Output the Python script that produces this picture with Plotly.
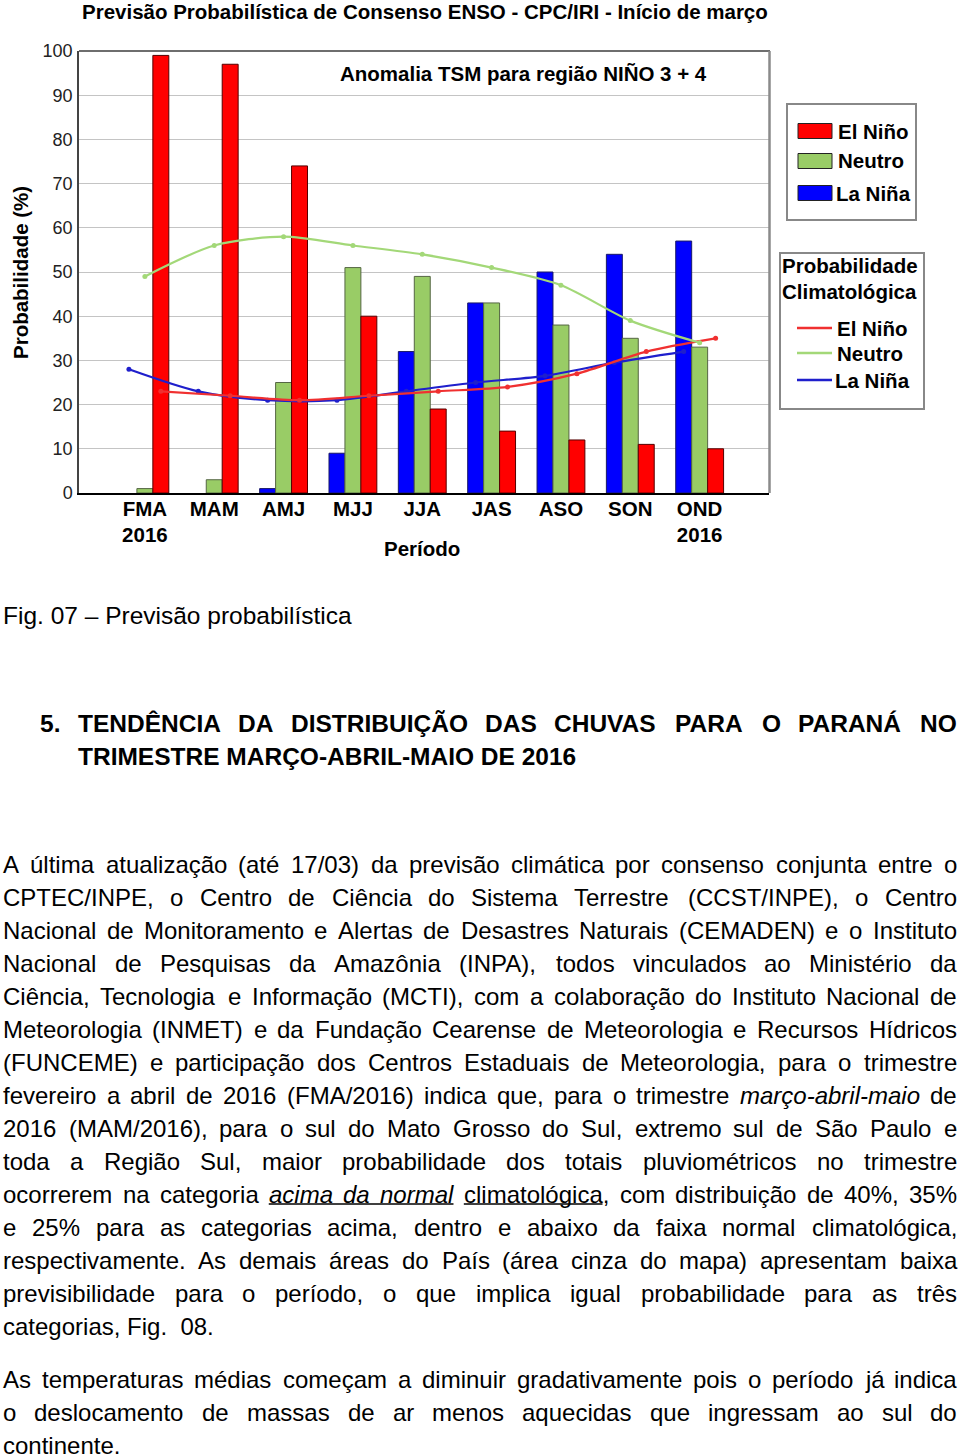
import re
import unicodedata
import plotly.graph_objects as go

W, H = 960, 1454
FONT = "Liberation Sans, Arial, sans-serif"


def px(x):
    return x / W


def py(y):
    return 1 - y / H


# ---------------- chart data ----------------
periods = ["FMA<br>2016", "MAM", "AMJ", "MJJ", "JJA", "JAS", "ASO", "SON", "OND<br>2016"]
la_nina = [0, 0, 1, 9, 32, 43, 50, 54, 57]
neutro = [1, 3, 25, 51, 49, 43, 38, 35, 33]
el_nino = [99, 97, 74, 40, 19, 14, 12, 11, 10]
clim_el_nino = [23, 22, 21, 22, 23, 24, 27, 32, 35]
clim_neutro = [49, 56, 58, 56, 54, 51, 47, 39, 34]
clim_la_nina = [28, 23, 21, 21, 23, 25, 26.5, 29.5, 32]
y_ticks = list(range(0, 101, 10))

# ---------------- page text ----------------
caption = "Fig. 07 – Previsão probabilística"
heading_num = "5."
heading_lines = [
    "TENDÊNCIA DA DISTRIBUIÇÃO DAS CHUVAS PARA O PARANÁ NO",
    "TRIMESTRE MARÇO-ABRIL-MAIO DE 2016",
]
para1 = [
    "A última atualização (até 17/03) da previsão climática por consenso conjunta entre o",
    "CPTEC/INPE, o Centro de Ciência do Sistema Terrestre (CCST/INPE), o Centro",
    "Nacional de Monitoramento e Alertas de Desastres Naturais (CEMADEN) e o Instituto",
    "Nacional de Pesquisas da Amazônia (INPA), todos vinculados ao Ministério da",
    "Ciência, Tecnologia e Informação (MCTI), com a colaboração do Instituto Nacional de",
    "Meteorologia (INMET) e da Fundação Cearense de Meteorologia e Recursos Hídricos",
    "(FUNCEME) e participação dos Centros Estaduais de Meteorologia, para o trimestre",
    "fevereiro a abril de 2016 (FMA/2016) indica que, para o trimestre <i>março-abril-maio</i> de",
    "2016 (MAM/2016), para o sul do Mato Grosso do Sul, extremo sul de São Paulo e",
    "toda a Região Sul, maior probabilidade dos totais pluviométricos no trimestre",
    "ocorrerem na categoria <i>acima</i> <i>da</i> <i>normal</i> climatológica, com distribuição de 40%, 35%",
    "e 25% para as categorias acima, dentro e abaixo da faixa normal climatológica,",
    "respectivamente. As demais áreas do País (área cinza do mapa) apresentam baixa",
    "previsibilidade para o período, o que implica igual probabilidade para as três",
    "categorias, Fig.\u00a0\u00a008.",
]
para1_underlines = {10: [(3, 5), (6, 6)]}
para2 = [
    "As temperaturas médias começam a diminuir gradativamente pois o período já indica",
    "o deslocamento de massas de ar menos aquecidas que ingressam ao sul do",
    "continente.",
]

# ---------------- Arial / Liberation Sans metrics ----------------
REG = {' ': 278, '\u00a0': 278, 'a': 556, 'b': 556, 'c': 500, 'd': 556, 'e': 556, 'f': 278, 'g': 556,
       'h': 556, 'i': 222, 'j': 222, 'k': 500, 'l': 222, 'm': 833, 'n': 556, 'o': 556, 'p': 556,
       'q': 556, 'r': 333, 's': 500, 't': 278, 'u': 556, 'v': 500, 'w': 722, 'x': 500, 'y': 500,
       'z': 500, 'A': 667, 'B': 667, 'C': 722, 'D': 722, 'E': 667, 'F': 611, 'G': 778, 'H': 722,
       'I': 278, 'J': 500, 'K': 667, 'L': 556, 'M': 833, 'N': 722, 'O': 778, 'P': 667, 'Q': 778,
       'R': 722, 'S': 667, 'T': 611, 'U': 722, 'V': 667, 'W': 944, 'X': 667, 'Y': 667, 'Z': 611,
       '.': 278, ',': 278, '(': 333, ')': 333, '/': 278, '-': 333, '%': 889, ':': 278, '–': 556,
       '+': 584}
BOLD = {' ': 278, 'a': 556, 'b': 611, 'c': 556, 'd': 611, 'e': 556, 'f': 333, 'g': 611, 'h': 611,
        'i': 278, 'j': 278, 'k': 556, 'l': 278, 'm': 889, 'n': 611, 'o': 611, 'p': 611, 'q': 611,
        'r': 389, 's': 556, 't': 333, 'u': 611, 'v': 556, 'w': 778, 'x': 556, 'y': 556, 'z': 500,
        'A': 722, 'B': 722, 'C': 722, 'D': 722, 'E': 667, 'F': 611, 'G': 778, 'H': 722, 'I': 278,
        'J': 556, 'K': 722, 'L': 611, 'M': 833, 'N': 722, 'O': 778, 'P': 667, 'Q': 778, 'R': 722,
        'S': 667, 'T': 611, 'U': 722, 'V': 667, 'W': 944, 'X': 667, 'Y': 667, 'Z': 611, '.': 278,
        ',': 278, '-': 333}


def tw(s, size, bold=False):
    s = re.sub(r"<[^>]+>", "", s)
    tab = BOLD if bold else REG
    tot = 0
    for ch in s:
        if ch in tab:
            tot += tab[ch]
        else:
            base = unicodedata.normalize("NFD", ch)[0]
            if ch in "íÍ":
                tot += 278
            else:
                tot += tab.get(base, 556)
    return tot / 1000 * size


fig = go.Figure()

BARGAP = 0.31
bw = (1 - BARGAP) / 3
cat_x = list(range(len(periods)))


def outline_widths(vals):
    return [0 if v == 0 else 1 for v in vals]


fig.add_bar(x=cat_x, y=la_nina, name="La Niña",
            marker=dict(color="#0000ff", line=dict(color="#1a1a66", width=outline_widths(la_nina))))
fig.add_bar(x=cat_x, y=neutro, name="Neutro",
            marker=dict(color="#99cc66", line=dict(color="#556644", width=outline_widths(neutro))))
fig.add_bar(x=cat_x, y=el_nino, name="El Niño",
            marker=dict(color="#ff0000", line=dict(color="#550000", width=outline_widths(el_nino))))

fig.add_scatter(x=[c - bw for c in cat_x], y=clim_la_nina, mode="lines+markers",
                line=dict(color="#1f1fcc", width=2.2, shape="spline", smoothing=0.8),
                marker=dict(size=5, color="#1f1fcc"), name="La Niña clim")
fig.add_scatter(x=[c + bw for c in cat_x], y=clim_el_nino, mode="lines+markers",
                line=dict(color="#f03030", width=2.2, shape="spline", smoothing=0.8),
                marker=dict(size=5, color="#f03030"), name="El Niño clim")
fig.add_scatter(x=cat_x, y=clim_neutro, mode="lines+markers",
                line=dict(color="#a3d878", width=2.2, shape="spline", smoothing=0.8),
                marker=dict(size=5, color="#a3d878"), name="Neutro clim")

fig.update_layout(
    width=W, height=H,
    margin=dict(l=0, r=0, t=0, b=0, autoexpand=False),
    paper_bgcolor="white", plot_bgcolor="white",
    barmode="group", bargap=BARGAP, bargroupgap=0,
    showlegend=False,
    xaxis=dict(domain=[px(79), px(769)], range=[-0.95, 9.0], tickmode="array",
               tickvals=cat_x, ticktext=periods, showgrid=False, zeroline=False,
               showline=True, linecolor="#000", linewidth=2, ticks="",
               ticklabelstandoff=-4,
               tickfont=dict(family=FONT, size=20.5, color="#000", weight="bold")),
    yaxis=dict(domain=[py(493), py(51)], range=[0, 100], tickmode="array",
               tickvals=y_ticks, showgrid=True, gridcolor="#c4c4c4", gridwidth=1,
               zeroline=False, showline=True, linecolor="#444", linewidth=1.5, ticks="",
               ticklabelstandoff=1,
               tickfont=dict(family=FONT, size=18, color="#222")),
)

# plot frame (top and right)
fig.add_shape(type="line", xref="paper", yref="paper", x0=px(79), x1=px(770), y0=py(51), y1=py(51),
              line=dict(color="#6e6e6e", width=2))
fig.add_shape(type="line", xref="paper", yref="paper", x0=px(769.5), x1=px(769.5), y0=py(51), y1=py(493),
              line=dict(color="#8a8a8a", width=2.5))


def add_text(text, x, y, size, bold=False, anchor="left", color="#000", angle=0):
    fig.add_annotation(text=text, x=px(x), y=py(y), xref="paper", yref="paper",
                       xanchor=anchor, yanchor="middle", showarrow=False,
                       textangle=angle, borderpad=0, borderwidth=0,
                       font=dict(family=FONT, size=size, color=color,
                                 weight="bold" if bold else "normal"))


# chart texts
add_text("Previsão Probabilística de Consenso ENSO - CPC/IRI - Início de março", 425, 12, 20.5, True, "center")
add_text("Anomalia TSM para região NIÑO 3 + 4", 523, 74, 20.5, True, "center")
add_text("Probabilidade (%)", 20, 273, 20.5, True, "center", angle=-90)
add_text("Período", 422, 548, 20.5, True, "center")

# legend box 1 (bars)
fig.add_shape(type="rect", xref="paper", yref="paper", x0=px(787), x1=px(916), y0=py(104), y1=py(220),
              line=dict(color="#888", width=2), fillcolor="white")
for name, col, yy, tx in [("El Niño", "#ff0000", 131, 838), ("Neutro", "#99cc66", 161, 838),
                          ("La Niña", "#0000ff", 193, 836)]:
    fig.add_shape(type="rect", xref="paper", yref="paper", x0=px(798), x1=px(832),
                  y0=py(yy - 7.5), y1=py(yy + 7.5), line=dict(color="#222", width=1), fillcolor=col)
    add_text(name, tx, yy, 20.5, True)

# legend box 2 (climatology lines)
fig.add_shape(type="rect", xref="paper", yref="paper", x0=px(780), x1=px(924), y0=py(253), y1=py(409),
              line=dict(color="#888", width=2), fillcolor="white")
add_text("Probabilidade", 782, 266, 20.5, True)
add_text("Climatológica", 782, 291, 20.5, True)
for name, col, yy, tx in [("El Niño", "#f03030", 328, 837), ("Neutro", "#a3d878", 353, 837),
                          ("La Niña", "#1f1fcc", 380, 835)]:
    fig.add_shape(type="line", xref="paper", yref="paper", x0=px(797), x1=px(832),
                  y0=py(yy), y1=py(yy), line=dict(color=col, width=2.5))
    add_text(name, tx, yy, 20.5, True)

# ---------------- page text layout ----------------
BODY = 24
HEAD = 24.5
X0, X1 = 3, 957


def justify_line(line, x0, x1, y, size, bold=False, justify=True, underlines=None):
    if not justify:
        add_text(line, x0, y, size, bold)
        return
    words = line.split(" ")
    widths = [tw(w, size, bold) for w in words]
    gap = (x1 - x0 - sum(widths)) / (len(words) - 1)
    starts = []
    x = x0
    for w, wd in zip(words, widths):
        starts.append(x)
        add_text(w, x, y, size, bold)
        x += wd + gap
    for (a, b) in (underlines or []):
        last = re.sub(r"[,.;:]+$", "", re.sub(r"<[^>]+>", "", words[b]))
        xe = starts[b] + tw(last, size, bold)
        fig.add_shape(type="line", xref="paper", yref="paper", x0=px(starts[a]), x1=px(xe),
                      y0=py(y + 10), y1=py(y + 10), line=dict(color="#000", width=1.5))


add_text(caption, 3, 615, 24.5)
add_text(heading_num, 40, 723, HEAD, True)
justify_line(heading_lines[0], 78, 957, 723, HEAD, True, True)
justify_line(heading_lines[1], 78, 957, 756, HEAD, True, False)

for k, line in enumerate(para1):
    justify_line(line, X0, X1, 864 + 33 * k, BODY, False, k < len(para1) - 1,
                 para1_underlines.get(k))
for k, line in enumerate(para2):
    justify_line(line, X0, X1, 1379 + 33 * k, BODY, False, k < len(para2) - 1)

fig.write_html("out.html")
